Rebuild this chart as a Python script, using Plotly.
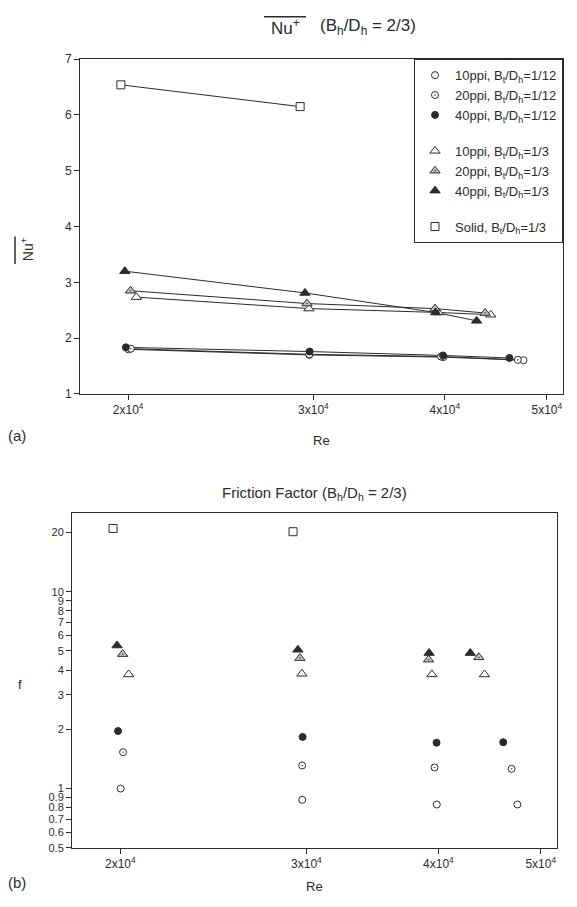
import numpy as np
import plotly.graph_objects as go

W, H = 577, 907

# ---- data -------------------------------------------------------------
series_names = [
    "10ppi, B<sub>t</sub>/D<sub>h</sub>=1/12",
    "20ppi, B<sub>t</sub>/D<sub>h</sub>=1/12",
    "40ppi, B<sub>t</sub>/D<sub>h</sub>=1/12",
    "10ppi, B<sub>t</sub>/D<sub>h</sub>=1/3",
    "20ppi, B<sub>t</sub>/D<sub>h</sub>=1/3",
    "40ppi, B<sub>t</sub>/D<sub>h</sub>=1/3",
    "Solid, B<sub>t</sub>/D<sub>h</sub>=1/3",
]

re_10_12 = [20013, 29728, 39860, 47510]
re_20_12 = [20118, 29728, 39670, 46920]
re_40_12 = [19900, 29754, 39840, 46070]
re_10_3 = [20366, 29709, 39440, 44220]
re_20_3 = [20101, 29580, 39150, 43680]
re_40_3 = [19856, 29451, 39200, 42880]
re_solid = [19684, 29140]

nu_10_12 = [1.80, 1.70, 1.66, 1.605]
nu_20_12 = [1.81, 1.71, 1.67, 1.61]
nu_40_12 = [1.835, 1.76, 1.69, 1.645]
nu_10_3 = [2.735, 2.53, 2.46, 2.42]
nu_20_3 = [2.85, 2.62, 2.53, 2.45]
nu_40_3 = [3.20, 2.81, 2.46, 2.31]
nu_solid = [6.54, 6.15]

f_10_12 = [1.00, 0.877, 0.83, 0.83]
f_20_12 = [1.53, 1.31, 1.28, 1.26]
f_40_12 = [1.96, 1.83, 1.71, 1.72]
f_10_3 = [3.80, 3.83, 3.80, 3.80]
f_20_3 = [4.82, 4.60, 4.52, 4.64]
f_40_3 = [5.33, 5.07, 4.88, 4.88]
f_solid = [20.97, 20.18]

re_ticks = [2e4, 3e4, 4e4, 5e4]
re_tick_text = ["2x10<sup>4</sup>", "3x10<sup>4</sup>", "4x10<sup>4</sup>", "5x10<sup>4</sup>"]
nu_ticks = [1, 2, 3, 4, 5, 6, 7]
f_ticks = [0.5, 0.6, 0.7, 0.8, 0.9, 1, 2, 3, 4, 5, 6, 7, 8, 9, 10, 20]
f_tick_text = ["0.5", "0.6", "0.7", "0.8", "0.9", "1", "2", "3", "4", "5",
               "6", "7", "8", "9", "10", "20"]

# ---- styles -----------------------------------------------------------
INK = "#2b2b2b"
FONT = "Liberation Sans, Arial, sans-serif"

styles = [
    dict(symbol="circle", color="white", size=7, group="g1"),
    dict(symbol="circle-dot", color="white", size=7, group="g1"),
    dict(symbol="circle", color=INK, size=7, group="g1"),
    dict(symbol="triangle-up", color="white", size=9, group="g2"),
    dict(symbol="triangle-up-dot", color="#c4c4c4", size=9, group="g2"),
    dict(symbol="triangle-up", color=INK, size=9, group="g2"),
    dict(symbol="square", color="white", size=8, group="g3"),
]

re_sets = [re_10_12, re_20_12, re_40_12, re_10_3, re_20_3, re_40_3, re_solid]
nu_sets = [nu_10_12, nu_20_12, nu_40_12, nu_10_3, nu_20_3, nu_40_3, nu_solid]
f_sets = [f_10_12, f_20_12, f_40_12, f_10_3, f_20_3, f_40_3, f_solid]

fig = go.Figure()

# connecting lines of the Nusselt plot (drawn first, under all markers)
for re_v, nu_v in zip(re_sets, nu_sets):
    fig.add_trace(go.Scatter(
        x=re_v, y=nu_v, mode="lines", showlegend=False, hoverinfo="skip",
        line=dict(color=INK, width=1), xaxis="x", yaxis="y",
    ))

for name, st, re_v, nu_v in zip(series_names, styles, re_sets, nu_sets):
    fig.add_trace(go.Scatter(
        x=re_v, y=nu_v, mode="markers", name=name,
        legendgroup=st["group"],
        marker=dict(symbol=st["symbol"], color=st["color"], size=st["size"],
                    line=dict(color=INK, width=1)),
        xaxis="x", yaxis="y",
    ))

for name, st, re_v, f_v in zip(series_names, styles, re_sets, f_sets):
    fig.add_trace(go.Scatter(
        x=re_v, y=f_v, mode="markers", name=name, showlegend=False,
        marker=dict(symbol=st["symbol"], color=st["color"], size=st["size"],
                    line=dict(color=INK, width=1)),
        xaxis="x2", yaxis="y2",
    ))

# plot rectangles in pixels (left, right, top, bottom)
top_box = (80, 563, 53, 393)
bot_box = (72, 557, 514, 854)


def px(x):
    return x / W


def py(y):
    return 1 - y / H


def dom_x(b):
    return [px(b[0]), px(b[1])]


def dom_y(b):
    return [py(b[3]), py(b[2])]


axis_common = dict(
    showline=True, linecolor=INK, linewidth=1, mirror=True,
    ticks="outside", ticklen=5, tickcolor=INK, tickwidth=1,
    showgrid=False, zeroline=False,
)
tick_font = dict(family=FONT, size=12, color=INK)

xr = [np.log10(1.8e4), np.log10(5.18e4)]

fig.update_layout(
    width=W, height=H,
    margin=dict(l=0, r=0, t=0, b=0),
    paper_bgcolor="white", plot_bgcolor="white",
    font=dict(family=FONT, color=INK),
    xaxis=dict(domain=dom_x(top_box), anchor="y", type="log", range=xr,
               tickvals=re_ticks, ticktext=re_tick_text, tickfont=tick_font,
               **axis_common),
    yaxis=dict(domain=dom_y(top_box), anchor="x", range=[1, 7],
               tickvals=nu_ticks, tickfont=tick_font, **axis_common),
    xaxis2=dict(domain=dom_x(bot_box), anchor="y2", type="log", range=xr,
                tickvals=re_ticks, ticktext=re_tick_text, tickfont=tick_font,
                **axis_common),
    yaxis2=dict(domain=dom_y(bot_box), anchor="x2", type="log",
                range=[np.log10(0.5), np.log10(25.1)],
                tickvals=f_ticks, ticktext=f_tick_text,
                tickfont=dict(family=FONT, size=11, color=INK), **axis_common),
    showlegend=True,
    legend=dict(
        x=px(top_box[1]), y=py(top_box[2]), xanchor="right", yanchor="top",
        xref="paper", yref="paper",
        bgcolor="white", bordercolor=INK, borderwidth=1,
        font=dict(family=FONT, size=13, color=INK),
        traceorder="grouped", tracegroupgap=16, itemwidth=30,
    ),
)


def label(text, x, y, size, anchor="center", angle=0):
    fig.add_annotation(text=text, x=px(x), y=py(y), xref="paper", yref="paper",
                       showarrow=False, xanchor=anchor, yanchor="middle",
                       textangle=angle,
                       font=dict(family=FONT, size=size, color=INK))


# titles
label("Nu<sup>+</sup>", 285, 20, 17)
label("(B<sub>h</sub>/D<sub>h</sub> = 2/3)", 318, 20, 17, anchor="left")
label("Friction Factor (B<sub>h</sub>/D<sub>h</sub> = 2/3)",
      (bot_box[0] + bot_box[1]) / 2, 494, 15)

# axis titles and panel tags
label("Re", (top_box[0] + top_box[1]) / 2, 440, 13)
label("Re", (bot_box[0] + bot_box[1]) / 2, 893, 13)
label("(a)", 17, 435, 15)
label("(b)", 17, 889, 15)
label("f", 20, 688, 13)
label("Nu<sup>+</sup>", 27, 246, 14, angle=-90)

# overbars on the Nu+ symbols
fig.add_shape(type="line", xref="paper", yref="paper",
              x0=px(264), x1=px(306), y0=py(10), y1=py(10),
              line=dict(color=INK, width=1.5))
fig.add_shape(type="line", xref="paper", yref="paper",
              x0=px(15), x1=px(15), y0=py(233), y1=py(261),
              line=dict(color=INK, width=1.5))

fig.write_html("out.html")
